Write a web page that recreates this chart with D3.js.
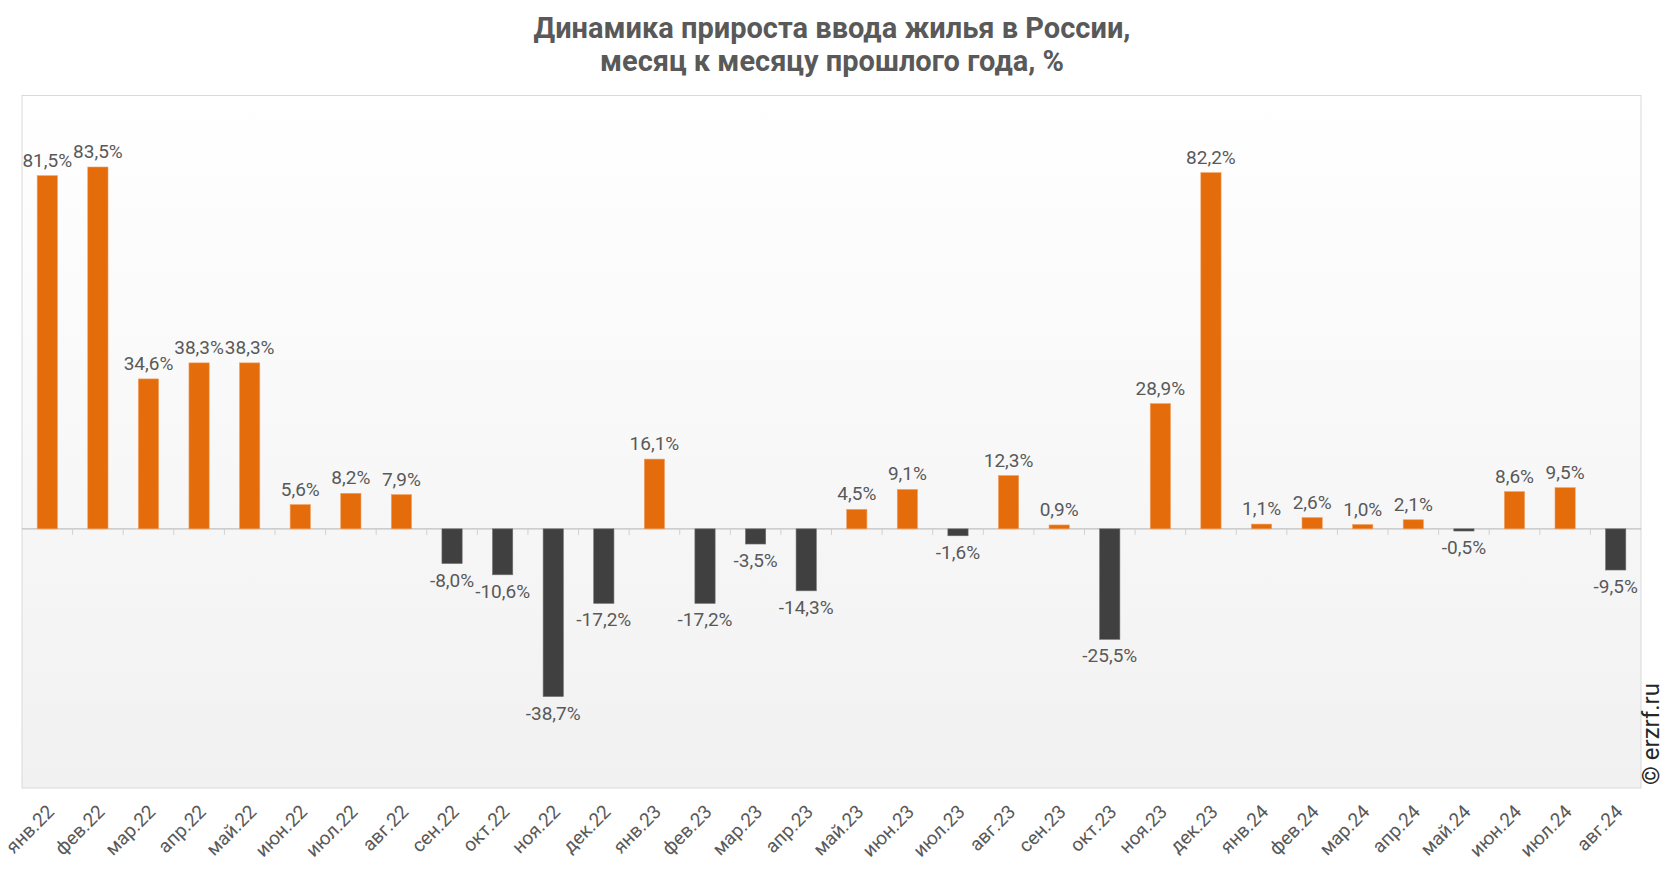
<!DOCTYPE html>
<html>
<head>
<meta charset="utf-8">
<script src="https://cdn.jsdelivr.net/npm/d3@7"></script>
<style>
  body { margin: 0; background: #fff; }
  text { font-family: Roboto, "Noto Sans", sans-serif; }
</style>
</head>
<body>
<svg id="canvas" width="1666" height="872"></svg>
<script>
const months = ['янв.22','фев.22','мар.22','апр.22','май.22','июн.22','июл.22','авг.22','сен.22','окт.22','ноя.22','дек.22',
                'янв.23','фев.23','мар.23','апр.23','май.23','июн.23','июл.23','авг.23','сен.23','окт.23','ноя.23','дек.23',
                'янв.24','фев.24','мар.24','апр.24','май.24','июн.24','июл.24','авг.24']
const growth = [81.5, 83.5, 34.6, 38.3, 38.3, 5.6, 8.2, 7.9, -8.0, -10.6, -38.7, -17.2,
                16.1, -17.2, -3.5, -14.3, 4.5, 9.1, -1.6, 12.3, 0.9, -25.5, 28.9, 82.2,
                1.1, 2.6, 1.0, 2.1, -0.5, 8.6, 9.5, -9.5]
const titleLines = ['Динамика прироста ввода жилья в России,', 'месяц к месяцу прошлого года, %']

let svg = d3.select('#canvas')
let plotLeft = 22, plotRight = 1641, plotTop = 95.5, plotBottom = 788

let x = d3.scaleBand().domain(months).range([plotLeft, plotRight]).paddingInner(0.6).paddingOuter(0.3)
let y = d3.scaleLinear().domain([-59.8, 100]).range([plotBottom, plotTop])

let grad = svg.append('defs').append('linearGradient')
              .attr('id', 'bg').attr('x1', 0).attr('y1', 0).attr('x2', 0).attr('y2', 1)
grad.append('stop').attr('offset', '0%').attr('stop-color', '#ffffff')
grad.append('stop').attr('offset', '100%').attr('stop-color', '#f1f1f1')

svg.append('rect')
   .attr('x', plotLeft).attr('y', plotTop)
   .attr('width', plotRight - plotLeft).attr('height', plotBottom - plotTop)
   .attr('fill', 'url(#bg)')
   .attr('stroke', '#d9d9d9').attr('stroke-width', 1)

svg.selectAll('.title')
   .data(titleLines)
   .enter()
   .append('text')
   .attr('x', 832).attr('y', (d, i) => 38 + i * 33)
   .attr('text-anchor', 'middle')
   .attr('font-size', 29).attr('font-weight', 'bold')
   .attr('fill', '#595959')
   .text(d => d)

// zero line with small ticks between categories
let step = x.step()
svg.append('line')
   .attr('x1', plotLeft).attr('x2', plotRight)
   .attr('y1', y(0)).attr('y2', y(0))
   .attr('stroke', '#bfbfbf').attr('stroke-width', 1.3)
svg.selectAll('.tick')
   .data(months.slice(1))
   .enter()
   .append('line')
   .attr('x1', d => x(d) - step * 0.3).attr('x2', d => x(d) - step * 0.3)
   .attr('y1', y(0)).attr('y2', y(0) + 6)
   .attr('stroke', '#d0d0d0').attr('stroke-width', 1)

let data = months.map((m, i) => ({ month: m, value: growth[i] }))

svg.selectAll('.bar')
   .data(data)
   .enter()
   .append('rect')
   .attr('x', d => x(d.month))
   .attr('width', x.bandwidth())
   .attr('y', d => d.value >= 0 ? y(d.value) : y(0))
   .attr('height', d => Math.abs(y(d.value) - y(0)))
   .attr('fill', d => d.value >= 0 ? '#e46c0a' : '#404040')
   .attr('stroke', d => d.value >= 0 ? '#f0a060' : '#707070')
   .attr('stroke-width', 0.6)

svg.selectAll('.label')
   .data(data)
   .enter()
   .append('text')
   .attr('x', d => x(d.month) + x.bandwidth() / 2)
   .attr('y', d => d.value >= 0 ? y(d.value) - 9 : y(d.value) + 23)
   .attr('text-anchor', 'middle')
   .attr('font-size', 19)
   .attr('fill', '#595959')
   .text(d => d.value.toFixed(1).replace('.', ',') + '%')

svg.selectAll('.xlabel')
   .data(months)
   .enter()
   .append('text')
   .attr('transform', d => 'translate(' + (x(d) + x.bandwidth() / 2 + 8) + ',' + 813 + ') rotate(-45)')
   .attr('text-anchor', 'end')
   .attr('font-size', 19)
   .attr('fill', '#595959')
   .text(d => d)

svg.append('text')
   .attr('transform', 'translate(1659,785) rotate(-90)')
   .attr('text-anchor', 'start')
   .attr('font-size', 24)
   .attr('fill', '#262626')
   .text('© erzrf.ru')
</script>
</body>
</html>
